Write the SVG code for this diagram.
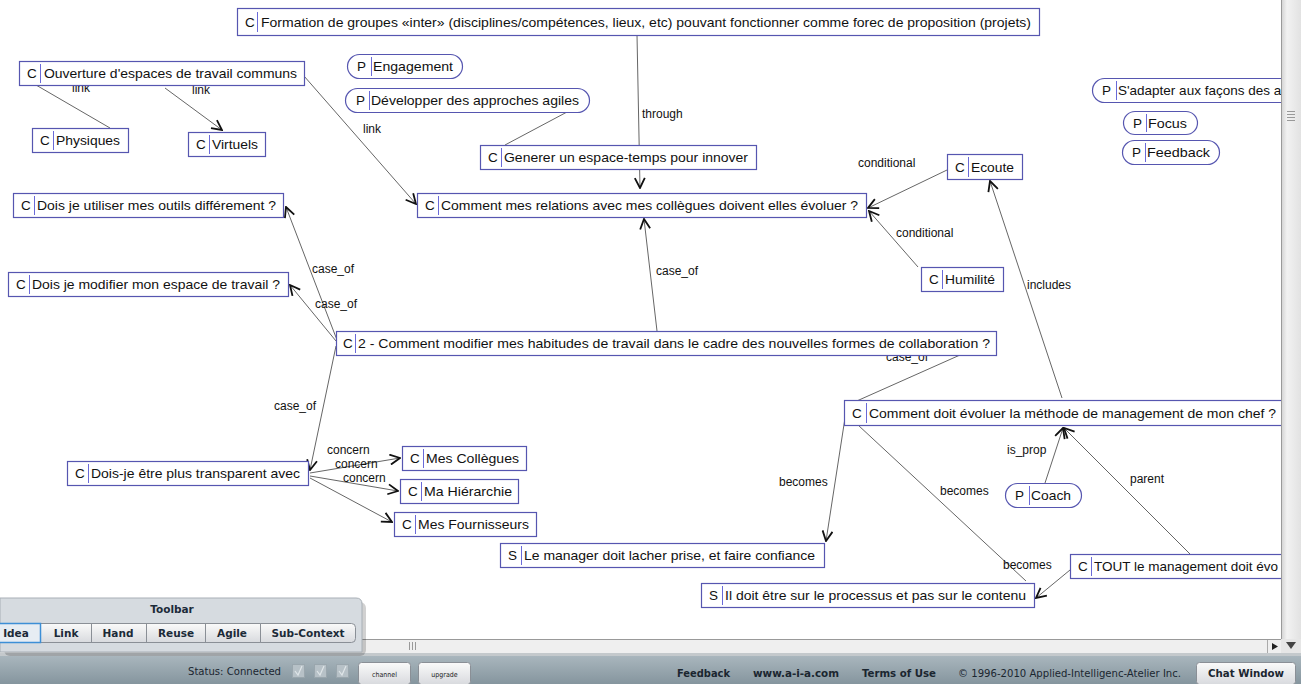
<svg xmlns="http://www.w3.org/2000/svg" width="1301" height="684" viewBox="0 0 1301 684">
<style>
.nb{fill:#fff;stroke:#5656b0;stroke-width:1.2}
.dv{stroke:#6a6ad8;stroke-width:1}
.nt{font-family:"Liberation Sans",Arial,sans-serif;font-size:13.5px;fill:#111}
.lb{font-family:"Liberation Sans",Arial,sans-serif;font-size:12px;fill:#111}
.ln{stroke:#666;stroke-width:1;fill:none}
.la{stroke:#666;stroke-width:1;fill:none;marker-end:url(#ah)}
.tb{font-family:"DejaVu Sans",Verdana,sans-serif;font-size:10.5px;font-weight:bold;fill:#1c2a38}
.btn{fill:url(#bg);stroke:#8a8f96;stroke-width:1}
.st{font-family:"DejaVu Sans Condensed","DejaVu Sans",sans-serif;font-size:11px;fill:#1b2630}
.sb{font-family:"DejaVu Sans Condensed","DejaVu Sans",sans-serif;font-size:11px;font-weight:bold;fill:#1b2630}
</style>
<defs>
<marker id="ah" viewBox="0 0 12 12" refX="11" refY="6" markerWidth="12" markerHeight="12" markerUnits="userSpaceOnUse" orient="auto">
<path d="M1,1 L11,6 L1,11" fill="none" stroke="#111" stroke-width="1.8"/>
</marker>
<linearGradient id="bg" x1="0" y1="0" x2="0" y2="1"><stop offset="0" stop-color="#fafafa"/><stop offset="1" stop-color="#d8dade"/></linearGradient>
<linearGradient id="sg" x1="0" y1="0" x2="0" y2="1"><stop offset="0" stop-color="#a9b6bd"/><stop offset="1" stop-color="#85959e"/></linearGradient>
<linearGradient id="vs" x1="0" y1="0" x2="1" y2="0"><stop offset="0" stop-color="#d0d0d0"/><stop offset="0.3" stop-color="#f2f2f2"/><stop offset="1" stop-color="#e2e2e2"/></linearGradient>
</defs>
<rect x="0" y="0" width="1301" height="684" fill="#fff"/>

<g id="connectors">
<path class="la" d="M637,35 L640,188"/>
<text class="lb" x="642" y="118">through</text>
<path class="la" d="M304,76 L416,204"/>
<text class="lb" x="363" y="133">link</text>
<path class="ln" d="M36,85 L110,128"/>
<text class="lb" x="72" y="92">link</text>
<path class="la" d="M165,88 L222,130"/>
<text class="lb" x="192" y="94">link</text>
<path class="ln" d="M567,112 L505,145"/>
<path class="la" d="M947,170 L868,208"/>
<text class="lb" x="858" y="167">conditional</text>
<path class="la" d="M918,267 L869,211"/>
<text class="lb" x="896" y="237">conditional</text>
<path class="la" d="M657,331 L644,219"/>
<text class="lb" x="656" y="275">case_of</text>
<path class="la" d="M337,340 L286,207"/>
<text class="lb" x="312" y="273">case_of</text>
<path class="la" d="M336,341 L290,285"/>
<text class="lb" x="315" y="308">case_of</text>
<path class="la" d="M336,346 L310,470"/>
<text class="lb" x="274" y="410">case_of</text>
<path class="ln" d="M960,355 L850,404"/>
<text class="lb" x="886" y="361">case_of</text>
<path class="la" d="M1062,398 L990,181"/>
<text class="lb" x="1027" y="289">includes</text>
<path class="la" d="M845,418 L826,541"/>
<text class="lb" x="779" y="486">becomes</text>
<path class="ln" d="M858,425 L1026,581"/>
<text class="lb" x="940" y="495">becomes</text>
<path class="la" d="M1070,570 L1036,598"/>
<text class="lb" x="1003" y="569">becomes</text>
<path class="la" d="M1190,554 L1064,428"/>
<text class="lb" x="1130" y="483">parent</text>
<path class="la" d="M1045,483 L1063,428"/>
<text class="lb" x="1007" y="454">is_prop</text>
<path class="la" d="M310,473 L400,458"/>
<text class="lb" x="327" y="454">concern</text>
<path class="la" d="M310,476 L398,491"/>
<text class="lb" x="335" y="468">concern</text>
<path class="la" d="M310,478 L392,522"/>
<text class="lb" x="343" y="482">concern</text>
</g>

<g id="n-formation"><rect class="nb" x="237.5" y="8.5" width="802" height="27"/><text class="nt" x="245" y="27">C</text><line class="dv" x1="257.5" y1="12" x2="257.5" y2="32"/><text class="nt" x="261" y="27" textLength="770" lengthAdjust="spacingAndGlyphs">Formation de groupes «inter» (disciplines/compétences, lieux, etc) pouvant fonctionner comme forec de proposition (projets)</text></g>
<g id="n-ouverture"><rect class="nb" x="19.5" y="61.5" width="285" height="24"/><text class="nt" x="27" y="78">C</text><line class="dv" x1="40.5" y1="64" x2="40.5" y2="83"/><text class="nt" x="44" y="78" textLength="253" lengthAdjust="spacingAndGlyphs">Ouverture d'espaces de travail communs</text></g>
<g id="n-physiques"><rect class="nb" x="32.5" y="128.5" width="96" height="24"/><text class="nt" x="40" y="145">C</text><line class="dv" x1="53.5" y1="131" x2="53.5" y2="150"/><text class="nt" x="56" y="145" textLength="64" lengthAdjust="spacingAndGlyphs">Physiques</text></g>
<g id="n-virtuels"><rect class="nb" x="188.5" y="132.5" width="77" height="24"/><text class="nt" x="196" y="149">C</text><line class="dv" x1="209.5" y1="135" x2="209.5" y2="154"/><text class="nt" x="212" y="149" textLength="46" lengthAdjust="spacingAndGlyphs">Virtuels</text></g>
<g id="n-engagement"><rect class="nb" x="347.5" y="54.5" width="115" height="24" rx="12"/><text class="nt" x="357" y="71">P</text><line class="dv" x1="371.5" y1="57" x2="371.5" y2="76"/><text class="nt" x="373" y="71" textLength="80" lengthAdjust="spacingAndGlyphs">Engagement</text></g>
<g id="n-developper"><rect class="nb" x="345.5" y="88.5" width="244" height="24" rx="12"/><text class="nt" x="356" y="105">P</text><line class="dv" x1="369.5" y1="91" x2="369.5" y2="110"/><text class="nt" x="371" y="105" textLength="208" lengthAdjust="spacingAndGlyphs">Développer des approches agiles</text></g>
<g id="n-generer"><rect class="nb" x="480.5" y="145.5" width="276" height="24"/><text class="nt" x="488" y="162">C</text><line class="dv" x1="501.5" y1="148" x2="501.5" y2="167"/><text class="nt" x="504" y="162" textLength="244" lengthAdjust="spacingAndGlyphs">Generer un espace-temps pour innover</text></g>
<g id="n-relations"><rect class="nb" x="417.5" y="193.5" width="449" height="24"/><text class="nt" x="425" y="210">C</text><line class="dv" x1="438.5" y1="196" x2="438.5" y2="215"/><text class="nt" x="441" y="210" textLength="417" lengthAdjust="spacingAndGlyphs">Comment mes relations avec mes collègues doivent elles évoluer ?</text></g>
<g id="n-ecoute"><rect class="nb" x="947.5" y="154.5" width="75" height="25"/><text class="nt" x="955" y="172">C</text><line class="dv" x1="968.5" y1="157" x2="968.5" y2="177"/><text class="nt" x="971" y="172" textLength="43" lengthAdjust="spacingAndGlyphs">Ecoute</text></g>
<g id="n-humilite"><rect class="nb" x="921.5" y="267.5" width="82" height="24"/><text class="nt" x="929" y="284">C</text><line class="dv" x1="942.5" y1="270" x2="942.5" y2="289"/><text class="nt" x="945" y="284" textLength="50" lengthAdjust="spacingAndGlyphs">Humilité</text></g>
<g id="n-sadapter"><rect class="nb" x="1092.5" y="78.5" width="220" height="24" rx="12"/><text class="nt" x="1102" y="95">P</text><line class="dv" x1="1116.5" y1="81" x2="1116.5" y2="100"/><text class="nt" x="1118" y="95">S'adapter aux façons des a</text></g>
<g id="n-focus"><rect class="nb" x="1123.5" y="111.5" width="74" height="23" rx="11.5"/><text class="nt" x="1133" y="128">P</text><line class="dv" x1="1146.5" y1="114" x2="1146.5" y2="132"/><text class="nt" x="1148" y="128" textLength="39" lengthAdjust="spacingAndGlyphs">Focus</text></g>
<g id="n-feedback"><rect class="nb" x="1122.5" y="140.5" width="97" height="24" rx="12"/><text class="nt" x="1132" y="157">P</text><line class="dv" x1="1145.5" y1="143" x2="1145.5" y2="162"/><text class="nt" x="1147" y="157" textLength="63" lengthAdjust="spacingAndGlyphs">Feedback</text></g>
<g id="n-utiliser"><rect class="nb" x="13.5" y="193.5" width="270" height="24"/><text class="nt" x="21" y="210">C</text><line class="dv" x1="34.5" y1="196" x2="34.5" y2="215"/><text class="nt" x="37" y="210" textLength="239" lengthAdjust="spacingAndGlyphs">Dois je utiliser mes outils différement ?</text></g>
<g id="n-modifier"><rect class="nb" x="8.5" y="272.5" width="280" height="24"/><text class="nt" x="16" y="289">C</text><line class="dv" x1="29.5" y1="275" x2="29.5" y2="294"/><text class="nt" x="32" y="289" textLength="248" lengthAdjust="spacingAndGlyphs">Dois je modifier mon espace de travail ?</text></g>
<g id="n-habitudes"><rect class="nb" x="336.5" y="331.5" width="660" height="24"/><text class="nt" x="343" y="348">C</text><line class="dv" x1="355.5" y1="334" x2="355.5" y2="353"/><text class="nt" x="358" y="348" textLength="632" lengthAdjust="spacingAndGlyphs">2 - Comment modifier mes habitudes de travail dans le cadre des nouvelles formes de collaboration ?</text></g>
<g id="n-chef"><rect class="nb" x="844.5" y="400.5" width="460" height="25"/><text class="nt" x="852" y="418">C</text><line class="dv" x1="866.5" y1="403" x2="866.5" y2="423"/><text class="nt" x="869" y="418" textLength="407" lengthAdjust="spacingAndGlyphs">Comment doit évoluer la méthode de management de mon chef ?</text></g>
<g id="n-transparent"><rect class="nb" x="67.5" y="461.5" width="241" height="24"/><text class="nt" x="75" y="478">C</text><line class="dv" x1="88.5" y1="464" x2="88.5" y2="483"/><text class="nt" x="91" y="478" textLength="209" lengthAdjust="spacingAndGlyphs">Dois-je être plus transparent avec</text></g>
<g id="n-collegues"><rect class="nb" x="402.5" y="446.5" width="124" height="24"/><text class="nt" x="410" y="463">C</text><line class="dv" x1="423.5" y1="449" x2="423.5" y2="468"/><text class="nt" x="426" y="463" textLength="93" lengthAdjust="spacingAndGlyphs">Mes Collègues</text></g>
<g id="n-hierarchie"><rect class="nb" x="400.5" y="479.5" width="118" height="24"/><text class="nt" x="408" y="496">C</text><line class="dv" x1="421.5" y1="482" x2="421.5" y2="501"/><text class="nt" x="424" y="496" textLength="88" lengthAdjust="spacingAndGlyphs">Ma Hiérarchie</text></g>
<g id="n-fournisseurs"><rect class="nb" x="394.5" y="512.5" width="142" height="24"/><text class="nt" x="402" y="529">C</text><line class="dv" x1="415.5" y1="515" x2="415.5" y2="534"/><text class="nt" x="418" y="529" textLength="111" lengthAdjust="spacingAndGlyphs">Mes Fournisseurs</text></g>
<g id="n-coach"><rect class="nb" x="1005.5" y="483.5" width="76" height="24" rx="12"/><text class="nt" x="1015" y="500">P</text><line class="dv" x1="1029.5" y1="486" x2="1029.5" y2="505"/><text class="nt" x="1031" y="500" textLength="40" lengthAdjust="spacingAndGlyphs">Coach</text></g>
<g id="n-manager"><rect class="nb" x="500.5" y="543.5" width="324" height="24"/><text class="nt" x="508" y="560">S</text><line class="dv" x1="521.5" y1="546" x2="521.5" y2="565"/><text class="nt" x="524" y="560" textLength="291" lengthAdjust="spacingAndGlyphs">Le manager doit lacher prise, et faire confiance</text></g>
<g id="n-processus"><rect class="nb" x="701.5" y="583.5" width="333" height="24"/><text class="nt" x="709" y="600">S</text><line class="dv" x1="722.5" y1="586" x2="722.5" y2="605"/><text class="nt" x="725" y="600" textLength="301" lengthAdjust="spacingAndGlyphs">Il doit être sur le processus et pas sur le contenu</text></g>
<g id="n-tout"><rect class="nb" x="1070.5" y="554.5" width="240" height="24"/><text class="nt" x="1078" y="571">C</text><line class="dv" x1="1091.5" y1="557" x2="1091.5" y2="576"/><text class="nt" x="1094" y="571">TOUT le management doit évo</text></g>

<g id="chrome">
<rect x="1281" y="0" width="20" height="640" fill="url(#vs)"/>
<line x1="1281.5" y1="0" x2="1281.5" y2="640" stroke="#9a9a9a"/>
<g stroke="#999"><line x1="1287" y1="111.5" x2="1295" y2="111.5"/><line x1="1287" y1="114.5" x2="1295" y2="114.5"/><line x1="1287" y1="117.5" x2="1295" y2="117.5"/><line x1="1287" y1="120.5" x2="1295" y2="120.5"/></g>
<rect x="0" y="639" width="1281" height="14" fill="#efefef"/>
<line x1="0" y1="639.5" x2="1281" y2="639.5" stroke="#999"/>
<g stroke="#999"><line x1="409.5" y1="642" x2="409.5" y2="650"/><line x1="412.5" y1="642" x2="412.5" y2="650"/><line x1="415.5" y1="642" x2="415.5" y2="650"/></g>
<line x1="1267.5" y1="640" x2="1267.5" y2="653" stroke="#aaa"/>
<path d="M1272,643 L1278,646.5 L1272,650 Z" fill="#222"/>
<rect x="1281" y="639" width="20" height="14" fill="#e6e6e6"/>
<path d="M1286,642 L1296,642 L1291,649 Z" fill="#444"/>
<rect x="0" y="653" width="1301" height="3" fill="#c4c9cc"/>
</g>

<g id="toolbar">
<rect x="4" y="602" width="362" height="54" rx="6" fill="#000" opacity="0.18"/>
<path d="M0,598 L356,598 Q362,598 362,604 L362,652 L0,652 Z" fill="#d6dbe0" stroke="#a8afb6"/>
<text class="tb" x="172" y="613" text-anchor="middle">Toolbar</text>
<rect class="btn" x="40.5" y="623.5" width="51" height="19"/>
<rect class="btn" x="91.5" y="623.5" width="55" height="19"/>
<rect class="btn" x="146.5" y="623.5" width="59" height="19"/>
<rect class="btn" x="205.5" y="623.5" width="55" height="19"/>
<path class="btn" d="M260.5,623.5 L351.5,623.5 Q355.5,623.5 355.5,627.5 L355.5,638.5 Q355.5,642.5 351.5,642.5 L260.5,642.5 Z"/>
<rect x="-1" y="623.5" width="41.5" height="19" fill="#e7edf3" stroke="#3d8fd6" stroke-width="1.5"/>
<text class="tb" x="16" y="637" text-anchor="middle">Idea</text>
<text class="tb" x="66" y="637" text-anchor="middle">Link</text>
<text class="tb" x="118" y="637" text-anchor="middle">Hand</text>
<text class="tb" x="176" y="637" text-anchor="middle">Reuse</text>
<text class="tb" x="232" y="637" text-anchor="middle">Agile</text>
<text class="tb" x="308" y="637" text-anchor="middle">Sub-Context</text>
</g>

<g id="statusbar">
<rect x="0" y="656" width="1301" height="28" fill="url(#sg)"/>
<text class="st" x="188" y="675" textLength="93" lengthAdjust="spacingAndGlyphs">Status: Connected</text>
<rect x="292.5" y="664.5" width="12" height="13" fill="#b7c1c7" stroke="#9aa6ad"/>
<rect x="314.5" y="664.5" width="12" height="13" fill="#b7c1c7" stroke="#9aa6ad"/>
<rect x="336.5" y="664.5" width="12" height="13" fill="#b7c1c7" stroke="#9aa6ad"/>
<g stroke="#dfe5e8" stroke-width="1.2" fill="none"><path d="M295,671 L298,675 L302,666"/><path d="M317,671 L320,675 L324,666"/><path d="M339,671 L342,675 L346,666"/></g>
<rect class="btn" x="358.5" y="662.5" width="52" height="22" rx="3"/>
<text x="384.5" y="677" text-anchor="middle" font-family="'DejaVu Sans Condensed','DejaVu Sans',sans-serif" font-size="7px" fill="#222">channel</text>
<rect class="btn" x="418.5" y="662.5" width="52" height="22" rx="3"/>
<text x="444.5" y="677" text-anchor="middle" font-family="'DejaVu Sans Condensed','DejaVu Sans',sans-serif" font-size="7px" fill="#222">upgrade</text>
<text class="sb" x="677" y="677" textLength="53" lengthAdjust="spacingAndGlyphs">Feedback</text>
<text class="sb" x="753" y="677" textLength="86" lengthAdjust="spacingAndGlyphs">www.a-i-a.com</text>
<text class="sb" x="862" y="677" textLength="74" lengthAdjust="spacingAndGlyphs">Terms of Use</text>
<text class="st" x="958" y="677" textLength="223" lengthAdjust="spacingAndGlyphs">© 1996-2010 Applied-Intelligenc-Atelier Inc.</text>
<rect class="btn" x="1196.5" y="662.5" width="99" height="22" rx="3"/>
<text class="sb" x="1246" y="677" text-anchor="middle" textLength="76" lengthAdjust="spacingAndGlyphs">Chat Window</text>
</g>
</svg>
